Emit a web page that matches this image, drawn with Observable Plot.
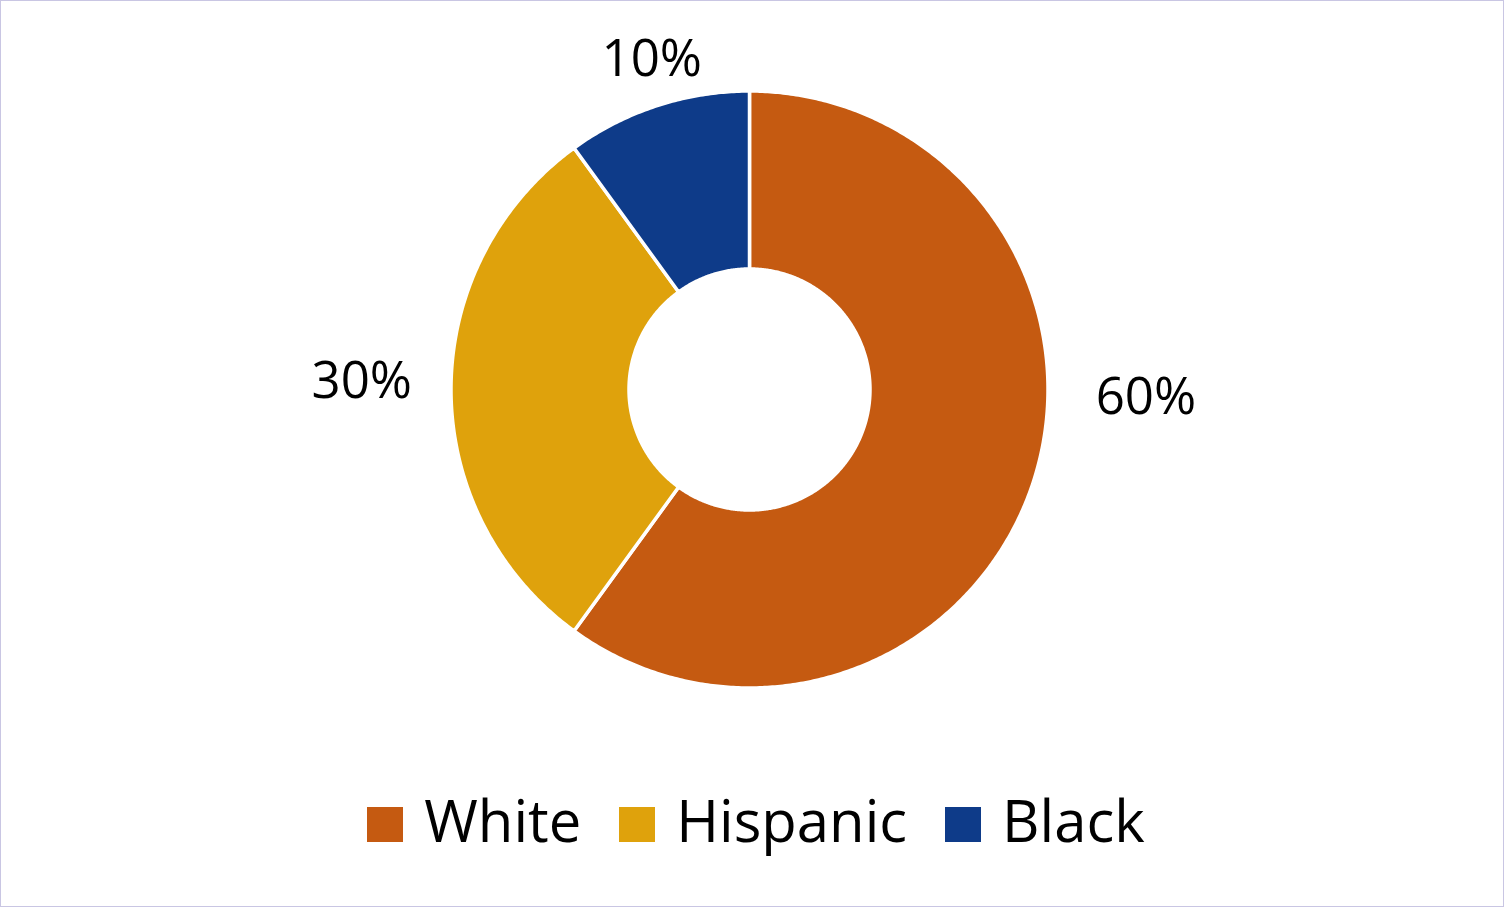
<!DOCTYPE html>
<html>
<head>
<meta charset="utf-8">
<script src="https://cdn.jsdelivr.net/npm/d3@7"></script>
<script src="https://cdn.jsdelivr.net/npm/@observablehq/plot@0.6"></script>
<style>
  html, body { margin: 0; padding: 0; background: #fff; }
  #wrap { position: relative; width: 1504px; height: 907px; overflow: hidden; background: #fff; font-family: "Open Sans", sans-serif; }
  #frame { position: absolute; left: 0; top: 0; width: 1504px; height: 907px; box-sizing: border-box; border: 1px solid #c9c6e3; pointer-events: none; }
  #chart { position: absolute; left: 0; top: 0; }
  #legend { position: absolute; left: 0; top: 791px; width: 1504px; display: flex; justify-content: center; padding-left: 8px; box-sizing: border-box; font-size: 58px; line-height: 1; color: #000; }
  .item { display: inline-flex; align-items: baseline; margin: 0 19px; white-space: nowrap; }
  .sw { display: inline-block; width: 36px; height: 35px; margin-right: 21px; }
</style>
</head>
<body>
<div id="wrap">
  <div id="chart"></div>
  <div id="legend"></div>
  <div id="frame"></div>
</div>
<script>
// ---- data ----
const categories = ["White", "Hispanic", "Black"];
const shares = [60, 30, 10];
const labels = ["60%", "30%", "10%"];
const colors = ["#C55A11", "#DFA20C", "#0E3B89"];

// ---- layout (not data) ----
const W = 1504, H = 760;
const R = 297;            // px per unit radius
const cx = 749, cy = 389; // centre in px
const innerRatio = 122 / 297;
// label placement: angle (deg clockwise from top) and radius (units of outer radius)
const labelPlacement = {White: [91.2, 1.335], Hispanic: [271.2, 1.306], Black: [343.5, 1.159]};

// ---- build slices via d3.pie ----
const pie = d3.pie().sort(null).value((d, i) => shares[i]);
const arcs = pie(categories);
const pts = [];
arcs.forEach((a, i) => {
  const cat = categories[i];
  const n = Math.max(8, Math.ceil((a.endAngle - a.startAngle) / (Math.PI / 360)));
  const ro = 1 + 1.5 / R, ri = innerRatio - 1.5 / R;
  for (let k = 0; k <= n; k++) {
    const t = a.startAngle + (a.endAngle - a.startAngle) * k / n;
    pts.push({cat, x: ro * Math.sin(t), y: ro * Math.cos(t)});
  }
  for (let k = n; k >= 0; k--) {
    const t = a.startAngle + (a.endAngle - a.startAngle) * k / n;
    pts.push({cat, x: ri * Math.sin(t), y: ri * Math.cos(t)});
  }
});
const labelData = categories.map((c, i) => {
  const [deg, r] = labelPlacement[c];
  const t = deg * Math.PI / 180;
  return {cat: c, text: labels[i], x: r * Math.sin(t), y: r * Math.cos(t)};
});

const chart = Plot.plot({
  width: W,
  height: H,
  margin: 0,
  x: {domain: [-cx / R, (W - cx) / R], axis: null},
  y: {domain: [-(H - cy) / R, cy / R], axis: null},
  color: {domain: categories, range: colors},
  style: {background: "transparent", fontFamily: "'Open Sans', sans-serif"},
  marks: [
    Plot.line(pts, {x: "x", y: "y", z: "cat", fill: "cat", stroke: "#fff", strokeWidth: 3.5, curve: "linear-closed"}),
    Plot.text(labelData, {x: "x", y: "y", text: "text", fontSize: 51, fill: "#000", textAnchor: "middle"})
  ]
});
document.getElementById("chart").appendChild(chart);

// ---- legend ----
const legend = document.getElementById("legend");
categories.forEach((c, i) => {
  const item = document.createElement("span");
  item.className = "item";
  const sw = document.createElement("span");
  sw.className = "sw";
  sw.style.background = colors[i];
  const tx = document.createElement("span");
  tx.textContent = c;
  item.appendChild(sw);
  item.appendChild(tx);
  legend.appendChild(item);
});
</script>
</body>
</html>
